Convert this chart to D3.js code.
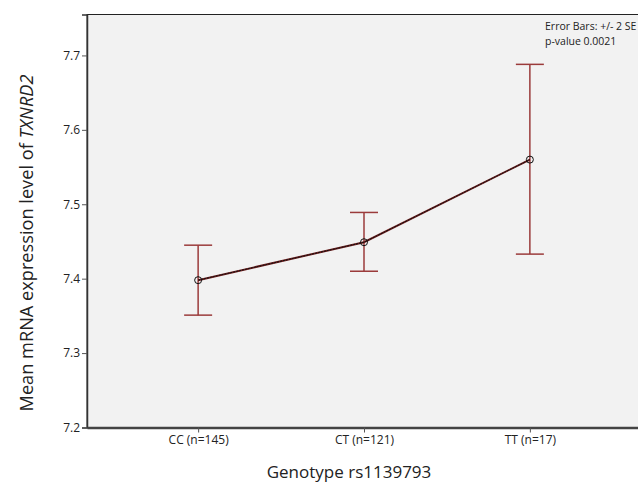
<!DOCTYPE html>
<html>
<head>
<meta charset="utf-8">
<script src="https://cdn.jsdelivr.net/npm/d3@7"></script>
<style>
  body { margin: 0; background: #fff; }
  svg { display: block; font-family: "Open Sans", "DejaVu Sans", sans-serif; }
</style>
</head>
<body>
<div id="chart"></div>
<script>
// genotype groups and their means with +/- 2 SE limits
const genotypes = ["CC (n=145)", "CT (n=121)", "TT (n=17)"];
const means = [7.398, 7.449, 7.560];
const upper = [7.445, 7.489, 7.688];
const lower = [7.351, 7.410, 7.433];
const yTicks = [7.2, 7.3, 7.4, 7.5, 7.6, 7.7];
const notes = ["Error Bars: +/- 2 SE", "p-value 0.0021"];

const width = 638, height = 482;
const margin = { top: 14.5, right: -3, bottom: 54.5, left: 87 };
const barColor = "#9b3b3b";

const svg = d3.select("#chart").append("svg")
    .attr("width", width)
    .attr("height", height);

const x = d3.scalePoint()
    .domain(genotypes)
    .range([margin.left, width - margin.right])
    .padding(0.67);

const y = d3.scaleLinear()
    .domain([7.2, 7.755])
    .range([height - margin.bottom, margin.top]);

// plot background and frame
svg.append("rect")
    .attr("x", margin.left)
    .attr("y", margin.top)
    .attr("width", width - margin.right - margin.left)
    .attr("height", height - margin.bottom - margin.top)
    .attr("fill", "#f2f2f2")
    .attr("stroke", "#222")
    .attr("stroke-width", 1);

// y axis
const yAxis = svg.append("g")
    .attr("transform", `translate(${margin.left},0)`)
    .call(d3.axisLeft(y).tickValues(yTicks).tickFormat(d3.format(".1f")).tickSize(5).tickPadding(2));
yAxis.select(".domain").attr("stroke", "#333").attr("stroke-width", 1.5);
yAxis.selectAll(".tick line").attr("stroke", "#555");
yAxis.selectAll("text")
    .attr("fill", "#222")
    .style("font-size", "12px")
    .style("font-family", "'Open Sans', sans-serif");

// x axis
const xAxis = svg.append("g")
    .attr("transform", `translate(0,${height - margin.bottom})`)
    .call(d3.axisBottom(x).tickSize(5).tickSizeOuter(0).tickPadding(3));
xAxis.select(".domain").attr("stroke", "#444").attr("stroke-width", 2.5);
xAxis.selectAll(".tick line").attr("stroke", "#555");
xAxis.selectAll("text")
    .attr("fill", "#222")
    .style("font-size", "12px")
    .style("font-family", "'Open Sans', sans-serif");

// error bars
const bars = svg.append("g")
    .attr("stroke", barColor)
    .attr("stroke-width", 1.5)
    .attr("fill", "none");

genotypes.forEach((g, i) => {
    const cx = x(g);
    bars.append("line")
        .attr("x1", cx).attr("x2", cx)
        .attr("y1", y(upper[i])).attr("y2", y(lower[i]));
    bars.append("line")
        .attr("x1", cx - 14).attr("x2", cx + 14)
        .attr("y1", y(upper[i])).attr("y2", y(upper[i]));
    bars.append("line")
        .attr("x1", cx - 14).attr("x2", cx + 14)
        .attr("y1", y(lower[i])).attr("y2", y(lower[i]));
});

// mean line
const line = d3.line()
    .x((d, i) => x(genotypes[i]))
    .y(d => y(d));

svg.append("path")
    .datum(means)
    .attr("d", line)
    .attr("fill", "none")
    .attr("stroke", "#6b1c1c")
    .attr("stroke-width", 2);
svg.append("path")
    .datum(means)
    .attr("d", line)
    .attr("fill", "none")
    .attr("stroke", "#111")
    .attr("stroke-width", 1)
    .attr("stroke-dasharray", "2,1");

svg.append("g")
    .selectAll("circle")
    .data(means)
    .join("circle")
    .attr("cx", (d, i) => x(genotypes[i]))
    .attr("cy", d => y(d))
    .attr("r", 3.5)
    .attr("fill", "none")
    .attr("stroke", "#111")
    .attr("stroke-width", 1);

// annotation
svg.append("g")
    .selectAll("text")
    .data(notes)
    .join("text")
    .attr("x", 545)
    .attr("y", (d, i) => 30 + i * 15)
    .attr("fill", "#222")
    .style("font-size", "10.5px")
    .text(d => d);

// axis titles
svg.append("text")
    .attr("x", 349)
    .attr("y", 478)
    .attr("text-anchor", "middle")
    .attr("fill", "#222")
    .style("font-size", "17px")
    .text("Genotype rs1139793");

const yTitle = svg.append("text")
    .attr("transform", "translate(33,243) rotate(-90)")
    .attr("text-anchor", "middle")
    .attr("fill", "#222")
    .style("font-size", "18.2px");
yTitle.append("tspan").text("Mean mRNA expression level of ");
yTitle.append("tspan").style("font-style", "italic").text("TXNRD2");
</script>
</body>
</html>
